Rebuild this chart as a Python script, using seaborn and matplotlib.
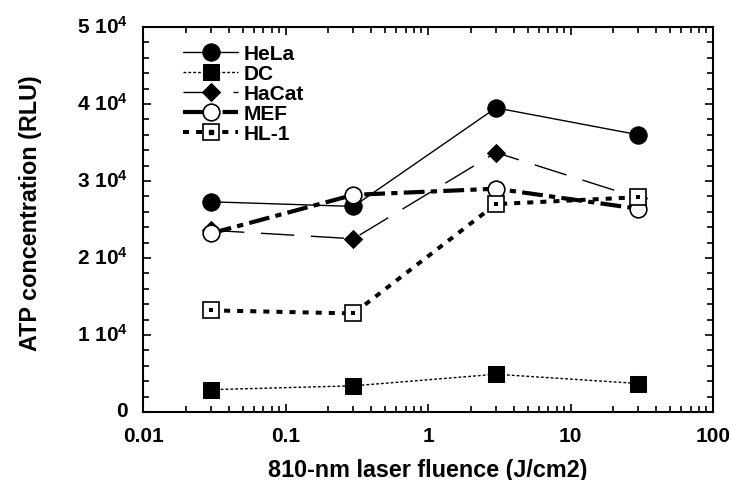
import numpy as np
import pandas as pd
import matplotlib
matplotlib.use("Agg")
import matplotlib.pyplot as plt
import matplotlib.transforms as mtransforms
import seaborn as sns
from matplotlib.ticker import FixedLocator, MultipleLocator, FuncFormatter, LogLocator, NullFormatter
from matplotlib.legend_handler import HandlerTuple

fluence = [0.03, 0.3, 3, 30]
hela = [27300, 26700, 39500, 36000]
dc = [2900, 3400, 4900, 3700]
hacat = [23600, 22500, 33700, 27800]
mef = [23200, 28200, 29000, 26400]
hl1 = [13200, 12800, 27000, 27900]

sns.set_theme(style="ticks")
plt.rcParams['font.family'] = ['Liberation Sans', 'DejaVu Sans']
plt.rcParams['text.color'] = 'black'
plt.rcParams['axes.labelcolor'] = 'black'
plt.rcParams['xtick.color'] = 'black'
plt.rcParams['ytick.color'] = 'black'
plt.rcParams['mathtext.fontset'] = 'custom'
plt.rcParams['mathtext.rm'] = 'Liberation Sans:bold'
plt.rcParams['mathtext.bf'] = 'Liberation Sans:bold'
plt.rcParams['mathtext.default'] = 'bf'

fig = plt.figure(figsize=(7.3, 4.81), dpi=100)
ax = fig.add_axes([143 / 730, (481 - 413) / 481, 570 / 730, 385 / 481])

df = pd.DataFrame({'fluence': fluence, 'HeLa': hela, 'DC': dc, 'HaCat': hacat,
                   'MEF': mef, 'HL-1': hl1})

sns.lineplot(data=df, x='fluence', y='HeLa', ax=ax, color='black', lw=1.0,
             marker='o', markersize=12.5, markerfacecolor='black', markeredgecolor='black', label='HeLa')
sns.lineplot(data=df, x='fluence', y='DC', ax=ax, color='black', lw=1.0, linestyle=(0, (2, 1.5)),
             marker='s', markersize=11.5, markerfacecolor='black', markeredgecolor='black', label='DC')
sns.lineplot(data=df, x='fluence', y='HaCat', ax=ax, color='black', lw=1.0, linestyle=(0, (24, 12)),
             marker='D', markersize=9, markerfacecolor='black', markeredgecolor='black', label='HaCat')
sns.lineplot(data=df, x='fluence', y='MEF', ax=ax, color='black', lw=3.0, linestyle=(0, (5, 1.5, 1.5, 1.5)),
             marker='o', markersize=12, markerfacecolor='white', markeredgecolor='black',
             markeredgewidth=1.2, label='MEF')
sns.lineplot(data=df, x='fluence', y='HL-1', ax=ax, color='black', lw=2.9, linestyle=(0, (1.5, 1.75)),
             marker='s', markersize=11.5, markerfacecolor='white', markeredgecolor='black',
             markeredgewidth=1.2, label='HL-1')
sns.scatterplot(data=df, x='fluence', y='HL-1', ax=ax, color='black', marker='s', s=12,
                linewidth=0, zorder=5, legend=False)

ax.set_xscale('log')
ax.set_xlim(0.01, 100)
ax.set_ylim(0, 50000)

ax.xaxis.set_major_locator(FixedLocator([0.01, 0.1, 1, 10, 100]))
ax.xaxis.set_minor_locator(LogLocator(base=10, subs=np.arange(2, 10)))
ax.xaxis.set_minor_formatter(NullFormatter())
ax.xaxis.set_major_formatter(FuncFormatter(lambda v, p: f"{v:g}"))
ax.yaxis.set_major_locator(MultipleLocator(10000))
ax.yaxis.set_minor_locator(MultipleLocator(2000))
ax.yaxis.set_major_formatter(FuncFormatter(
    lambda v, p: "0" if v == 0 else f"{int(v // 10000)} 10$^{{4}}$"))

ax.tick_params(which='both', direction='in', top=True, right=True, width=1.2, colors='black')
ax.tick_params(which='major', length=5.5)
ax.tick_params(which='minor', length=4)
ax.tick_params(axis='x', which='major', pad=10, labelsize=15)
ax.tick_params(axis='y', which='major', pad=11, labelsize=15)
shift = mtransforms.ScaledTranslation(0, 3 / 100, fig.dpi_scale_trans)
for lab in ax.get_xticklabels() + ax.get_yticklabels():
    lab.set_fontweight('bold')
for lab in ax.get_yticklabels():
    lab.set_transform(lab.get_transform() + shift)
for s in ax.spines.values():
    s.set_linewidth(1.5)
    s.set_color('black')

ax.set_xlabel('810-nm laser fluence (J/cm2)', fontsize=16.8, fontweight='bold')
ax.set_ylabel('ATP concentration (RLU)', fontsize=16.8, fontweight='bold')
ax.xaxis.set_label_coords(0.5, -0.12)
ax.yaxis.set_label_coords(-0.178, 0.519)

handles, labels = ax.get_legend_handles_labels()
dot = plt.Line2D([], [], ls='none', marker='s', markersize=3.3, color='black')
handles[4] = (handles[4], dot)
ax.legend(handles, labels, loc='upper left', bbox_to_anchor=(40 / 570, 0.955), frameon=False,
          handlelength=2.64, labelspacing=0.05, handletextpad=0.29, borderaxespad=0, borderpad=0,
          prop={'weight': 'bold', 'size': 15},
          handler_map={tuple: HandlerTuple(ndivide=1, pad=0)})

fig.savefig('out.png', dpi=100)
